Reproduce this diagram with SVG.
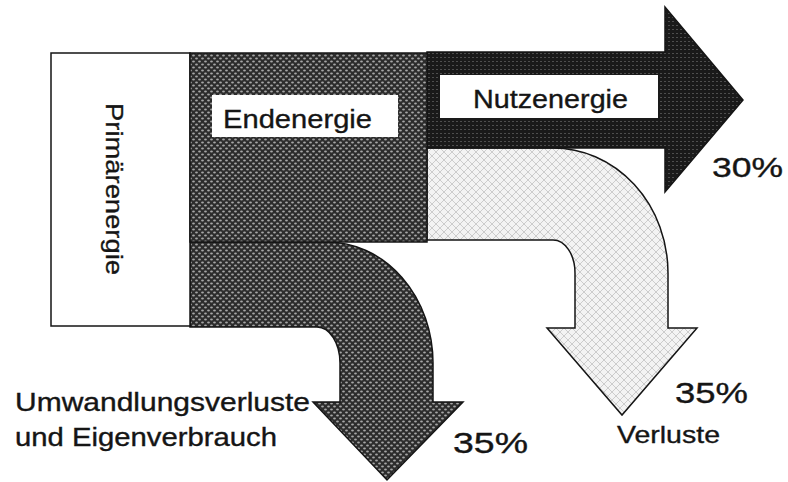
<svg xmlns="http://www.w3.org/2000/svg" width="788" height="482" viewBox="0 0 788 482">
  <defs>
    <pattern id="pDark" width="6" height="6" patternUnits="userSpaceOnUse">
      <rect width="6" height="6" fill="#2c2c2c"/>
      <ellipse cx="1.5" cy="1.5" rx="1.4" ry="1.1" fill="#a6a6a6"/>
      <ellipse cx="4.5" cy="4.5" rx="1.4" ry="1.1" fill="#a6a6a6"/>
    </pattern>
    <pattern id="pNutz" width="4" height="4" patternUnits="userSpaceOnUse">
      <rect width="4" height="4" fill="#1a1a1a"/>
      <rect x="0" y="1" width="2" height="1" fill="#4e4e4e"/>
    </pattern>
    <pattern id="pLight" width="8" height="8" patternUnits="userSpaceOnUse">
      <rect width="8" height="8" fill="#f3f3f3"/>
      <path d="M0 4 L4 0 L8 4 L4 8 Z" fill="none" stroke="#c2c2c2" stroke-width="0.8"/>
    </pattern>
  </defs>
  <style>
    .lbl { font-family: "Liberation Sans", Arial, sans-serif; fill: #151515; stroke: #151515; stroke-width: 0.35; }
    .outline { stroke: #151515; stroke-width: 1.5; stroke-linejoin: miter; }
    .box { fill: #ffffff; }
  </style>
  <rect width="788" height="482" fill="#ffffff"/>

  <g id="connectors">
    <g id="flow-verluste">
      <path class="outline" fill="url(#pLight)" d="M427 148 L553 148 A115 125 0 0 1 668 273 L668 328 L697 328 L622 415 L547 328 L575 328 L575 273 A22 33 0 0 0 553 240 L427 240 Z"/>
    </g>
    <g id="flow-nutzenergie">
      <path class="outline" fill="url(#pNutz)" d="M427 52 L665 52 L665 7 L743 100 L665 192 L665 148 L427 148 Z"/>
      <rect class="box" x="440" y="75" width="218" height="43"/>
      <text class="lbl" x="473" y="108" font-size="25" textLength="155" lengthAdjust="spacingAndGlyphs">Nutzenergie</text>
    </g>
    <g id="flow-umwandlung">
      <path class="outline" fill="url(#pDark)" d="M190 242 L327 242 A106 121 0 0 1 433 363 L433 402 L463 402 L387 480 L313 402 L340 402 L340 363 A23 36 0 0 0 317 327 L190 327 Z"/>
    </g>
  </g>

  <g id="primaerenergie">
    <rect class="outline box" x="51" y="53" width="139" height="273"/>
    <text class="lbl" transform="translate(106,189) rotate(90)" text-anchor="middle" font-size="24" textLength="172" lengthAdjust="spacingAndGlyphs">Primärenergie</text>
  </g>

  <g id="endenergie">
    <rect class="outline" fill="url(#pDark)" x="190" y="53" width="237" height="189"/>
    <rect class="box" x="212" y="95" width="186" height="42"/>
    <text class="lbl" x="223" y="128" font-size="26" textLength="149" lengthAdjust="spacingAndGlyphs">Endenergie</text>
  </g>

  <g id="labels">
    <text class="lbl" x="712" y="177" font-size="28" textLength="71" lengthAdjust="spacingAndGlyphs">30%</text>
    <text class="lbl" x="675" y="403" font-size="29" textLength="73" lengthAdjust="spacingAndGlyphs">35%</text>
    <text class="lbl" x="617" y="443" font-size="24" textLength="103" lengthAdjust="spacingAndGlyphs">Verluste</text>
    <text class="lbl" x="453" y="453" font-size="29" textLength="75" lengthAdjust="spacingAndGlyphs">35%</text>
    <text class="lbl" x="15" y="411" font-size="25" textLength="295" lengthAdjust="spacingAndGlyphs">Umwandlungsverluste</text>
    <text class="lbl" x="15" y="446" font-size="25" textLength="262" lengthAdjust="spacingAndGlyphs">und Eigenverbrauch</text>
  </g>
</svg>
